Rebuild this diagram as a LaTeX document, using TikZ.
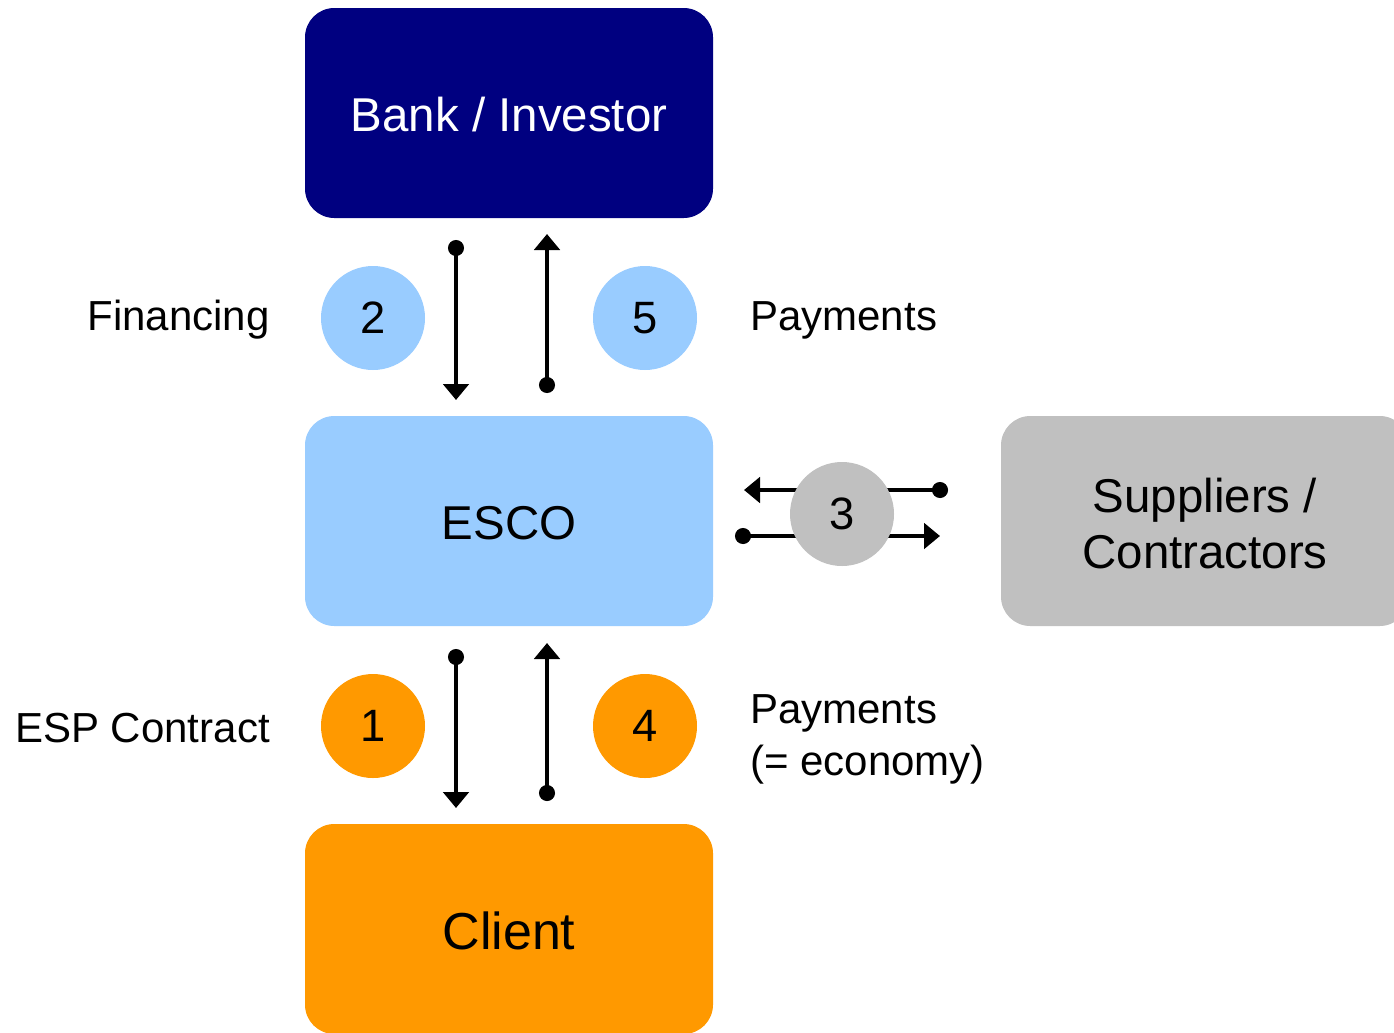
\documentclass[tikz,border=0pt]{standalone}
\usepackage{fontspec}
\setmainfont{Liberation Sans}
\usetikzlibrary{arrows.meta}
\definecolor{navyb}{HTML}{000080}
\definecolor{lblue}{HTML}{99CCFF}
\definecolor{orng}{HTML}{FF9900}
\definecolor{lgray}{HTML}{C0C0C0}
\begin{document}
\begin{tikzpicture}[x=0.75pt,y=-0.75pt,
  box/.style={rounded corners=22pt,inner sep=0pt,minimum width=306pt,minimum height=157.5pt,align=center,font=\fontsize{35.6}{42}\selectfont},
  num/.style={circle,inner sep=0pt,minimum size=78pt,font=\fontsize{34}{40}\selectfont},
  lbl/.style={inner sep=0pt,align=left,font=\fontsize{31.5}{39}\selectfont},
  flow/.style={line width=3pt,{Circle[length=12pt]}-{Triangle[width=19pt,length=12pt]},shorten <=-6pt}]
\clip (0,0) rectangle (1394,1032);
\fill[white] (0,0) rectangle (1394,1032);
% boxes
\path[rounded corners=22pt,fill=navyb] (305,8) rectangle (713,218);
\node[text=white,font=\fontsize{35.6}{42}\selectfont] (bank) at (509,115) {Bank / Investor};
\path[rounded corners=22pt,fill=lblue] (305,416) rectangle (713,626);
\node[font=\fontsize{35.6}{42}\selectfont] (esco) at (509,523) {ESCO};
\path[rounded corners=22pt,fill=orng] (305,824) rectangle (713,1034);
\node[font=\fontsize{39}{44}\selectfont] (client) at (509,931) {Client};
\path[rounded corners=22pt,fill=lgray] (1001,416) rectangle (1409,626);
\node[align=center,font=\fontsize{35.6}{42}\selectfont] (supp) at (1205,524) {Suppliers /\\Contractors};
% flow coordinates
\coordinate (a1) at (456,248); \coordinate (a2) at (456,400);
\coordinate (b1) at (547,385); \coordinate (b2) at (547,234);
\coordinate (c1) at (456,657); \coordinate (c2) at (456,808);
\coordinate (d1) at (547,793); \coordinate (d2) at (547,643);
\coordinate (e1) at (940,490); \coordinate (e2) at (744,490);
\coordinate (f1) at (743,536); \coordinate (f2) at (940,536);
\draw[flow] (a1) -- (a2);
\draw[flow] (b1) -- (b2);
\draw[flow] (c1) -- (c2);
\draw[flow] (d1) -- (d2);
\draw[flow] (e1) -- (e2);
\draw[flow] (f1) -- (f2);
% numbered circles
\node[num,fill=lblue] (n2) at (373,318) {2};
\node[num,fill=lblue] (n5) at (645,318) {5};
\node[num,fill=orng] (n1) at (373,726) {1};
\node[num,fill=orng] (n4) at (645,726) {4};
\node[num,fill=lgray] (n3) at (842,514) {3};
% labels
\node[lbl,anchor=east] (fin) at (270,320) {Financing};
\node[lbl,anchor=west] (pay1) at (750,320) {Payments};
\node[lbl,anchor=east] (esp) at (270,728) {ESP Contract};
\node[lbl,anchor=west] (pay2) at (750,739) {Payments\\(= economy)};
\end{tikzpicture}
\end{document}
